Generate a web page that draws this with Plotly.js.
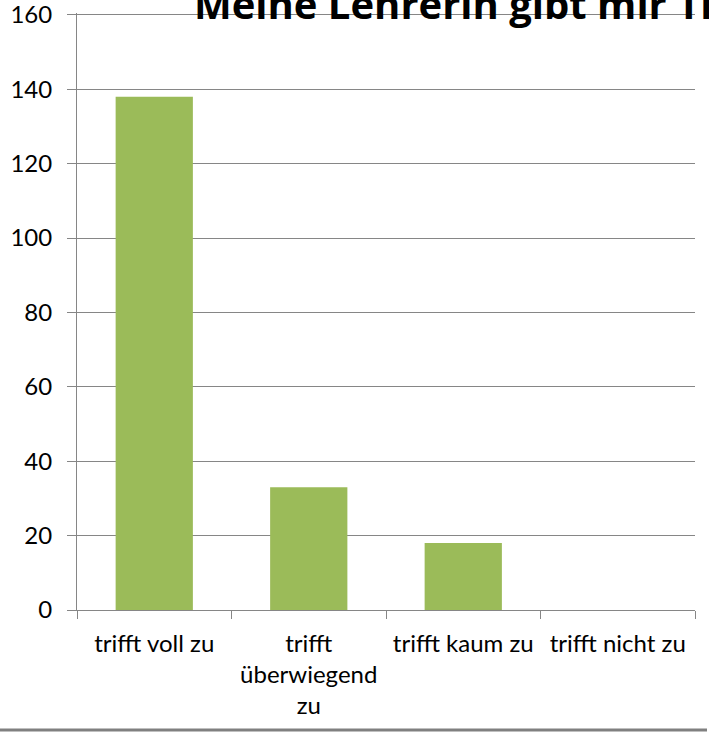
<!DOCTYPE html>
<html>
<head>
<meta charset="utf-8">
<script src="https://cdn.plot.ly/plotly-3.0.1.min.js"></script>
<style>
html,body{margin:0;padding:0;background:#fff;overflow:hidden;}
#chart{width:709px;height:732px;}
</style>
</head>
<body>
<div id="chart"></div>
<script>
// Data
const categories = ["trifft voll zu", "trifft überwiegend zu", "trifft kaum zu", "trifft nicht zu"];
const tickLabels = ["trifft voll zu", "trifft<br>überwiegend<br>zu", "trifft kaum zu", "trifft nicht zu"];
const values = [138, 33, 18, 0];
const yTicks = [0, 20, 40, 60, 80, 100, 120, 140, 160];
const chartTitle = "Meine Lehrerin gibt mir Tipps";

const W = 709, H = 732;
const m = {l: 77, r: 14, t: 13, b: 122};
const plotH = H - m.t - m.b, plotW = W - m.l - m.r;

const trace = {
  type: "bar",
  x: categories,
  y: values,
  marker: {color: "#9BBB59"},
  hoverinfo: "x+y"
};

const layout = {
  width: W, height: H,
  margin: m,
  paper_bgcolor: "#fff",
  plot_bgcolor: "#fff",
  showlegend: false,
  bargap: 0.5,
  font: {family: "Lato, 'DejaVu Sans', sans-serif", size: 24, color: "#000"},
  title: {
    text: "<b>" + chartTitle + "</b>",
    font: {family: "'Open Sans', sans-serif", size: 40, color: "#000"},
    xref: "container", yref: "container",
    x: 194 / W, xanchor: "left",
    y: 1 - 5 / H, yanchor: "middle"
  },
  xaxis: {
    type: "category",
    tickvals: categories,
    ticktext: tickLabels,
    showline: true, linecolor: "#868686", linewidth: 1,
    ticks: "outside", tickson: "boundaries", ticklen: 8, tickcolor: "#868686",
    showgrid: false, zeroline: false,
    ticklabelstandoff: 12,
    tickfont: {size: 24, color: "#000"},
    fixedrange: true
  },
  yaxis: {
    range: [0, 160.5],
    tickvals: yTicks,
    showline: true, linecolor: "#868686", linewidth: 1,
    ticks: "outside", ticklen: 9, tickcolor: "#868686",
    showgrid: true, gridcolor: "#868686", gridwidth: 1,
    zeroline: false,
    ticklabelstandoff: 10,
    ticklabeloverflow: "allow",
    tickfont: {size: 24, color: "#000"},
    fixedrange: true
  },
  shapes: [{
    type: "line", xref: "paper", yref: "paper",
    x0: -m.l / plotW, x1: (707 - m.l) / plotW,
    y0: -(730 - (m.t + plotH)) / plotH, y1: -(730 - (m.t + plotH)) / plotH,
    line: {color: "#808080", width: 3}
  }]
};

Plotly.newPlot("chart", [trace], layout, {displayModeBar: false, staticPlot: true});
</script>
</body>
</html>
